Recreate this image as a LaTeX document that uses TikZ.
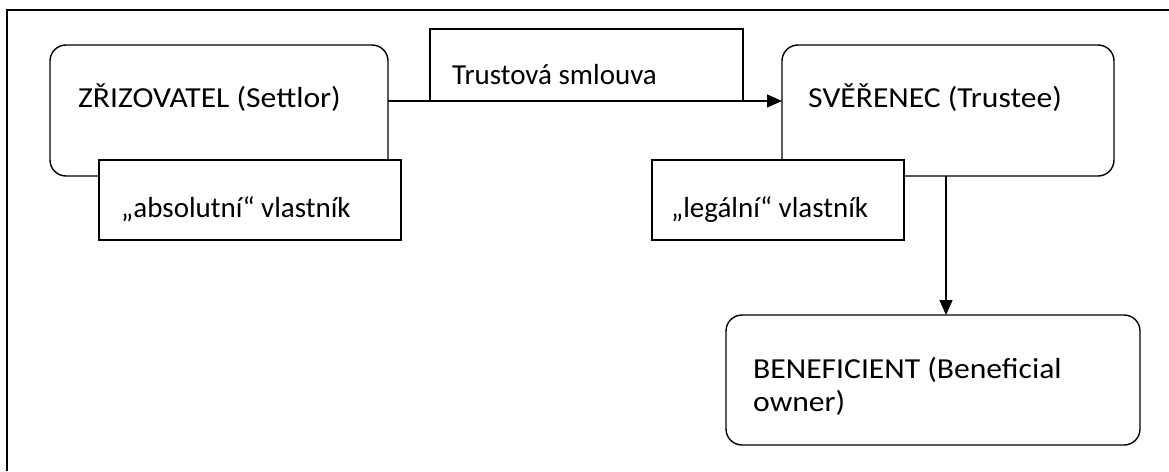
\documentclass[tikz,border=0pt]{standalone}
\usepackage{fontspec}
\setmainfont{Carlito}
\newfontfamily\widefont{Carlito}[FakeStretch=1.09]
\usetikzlibrary{arrows.meta}
\begin{document}
\begin{tikzpicture}[x=1pt,y=-1pt,
  rbox/.style={draw,line width=1.4pt,rounded corners=16pt,fill=white},
  sbox/.style={draw,line width=1.4pt,fill=white},
  lbl/.style={anchor=base west,inner sep=0pt,font=\fontsize{29}{33}\selectfont},
  wlbl/.style={lbl,font=\fontsize{29}{33}\widefont},
  conn/.style={line width=1.4pt,-{Triangle[length=15pt,width=13pt]}}]
\useasboundingbox (0,0) rectangle (1169,471);
\fill[white] (0,0) rectangle (1169,471);
\draw[line width=2.4pt] (7,471) -- (7,10) -- (1169,10);
% settlor
\draw[rbox] (50,45) rectangle (388,176);
\coordinate (s) at (388,101);
\node[wlbl] (st) at (78,107) {ZŘIZOVATEL (Settlor)};
\draw[sbox] (99,160) rectangle (401,240);
\node[lbl] (abs) at (121,217) {„absolutní“ vlastník};
% trust contract
\draw[sbox] (430,29) rectangle (743,101);
\node[lbl] (tr) at (452,84) {Trustová smlouva};
% trustee
\draw[rbox] (782,45) rectangle (1114,176);
\coordinate (t) at (782,101);
\node[wlbl] (tt) at (808,107) {SVĚŘENEC (Trustee)};
\draw[sbox] (652,160) rectangle (904,240);
\node[lbl] (leg) at (671,217) {„legální“ vlastník};
% beneficial
\draw[rbox] (726,315) rectangle (1140,445);
\node[wlbl] (bt) at (753,378) {BENEFICIENT (Beneficial};
\node[wlbl] (bt2) at (753,411) {owner)};
\coordinate (t2) at (946,176);
\coordinate (b) at (946,315);
\draw[conn] (s) -- (t);
\draw[conn] (t2) -- (b);
\end{tikzpicture}
\end{document}
